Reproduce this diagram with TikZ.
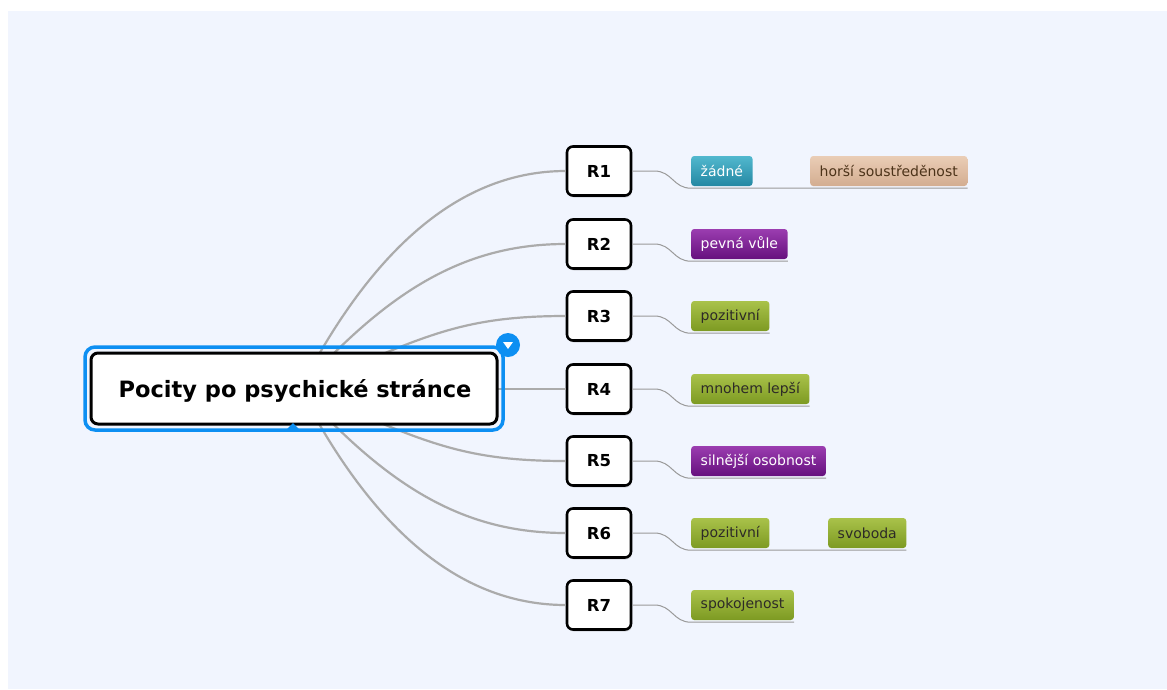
\documentclass[tikz,border=0pt]{standalone}
\usepackage{fontspec}
\setmainfont{DejaVu Sans}
\usetikzlibrary{shadows}
\definecolor{panel}{HTML}{F1F5FE}
\definecolor{wire}{HTML}{ABABAB}
\definecolor{selblue}{HTML}{0D8FF2}
\definecolor{tealT}{HTML}{52B8CE}\definecolor{tealB}{HTML}{2488A3}
\definecolor{tanT}{HTML}{EACDB6}\definecolor{tanB}{HTML}{D3AD90}
\definecolor{purT}{HTML}{9B3DB0}\definecolor{purB}{HTML}{66107E}
\definecolor{grnT}{HTML}{A9C24A}\definecolor{grnB}{HTML}{7D9A22}
\tikzset{
  rbox/.style={draw=black, line width=2.6pt, fill=white, rounded corners=6pt,
    minimum width=64pt, minimum height=49pt, inner sep=0pt,
    font=\bfseries\fontsize{16.5}{18}\selectfont,
    drop shadow={opacity=0.25, shadow xshift=1pt, shadow yshift=-2pt}},
  leaf/.style={anchor=west, rounded corners=3pt, minimum height=30pt, inner xsep=9.5pt,
    inner ysep=0pt, font=\fontsize{14}{16}\selectfont},
  teal/.style={leaf, top color=tealT, bottom color=tealB, text=white},
  tan/.style={leaf, top color=tanT, bottom color=tanB, text=black!60!brown},
  purple/.style={leaf, top color=purT, bottom color=purB, text=white},
  green/.style={leaf, top color=grnT, bottom color=grnB, text=black!90!olive},
  trunk/.style={draw=wire, line width=2.2pt},
  twig/.style={draw=wire!90!black, line width=1pt},
}
\begin{document}
\begin{tikzpicture}[x=1pt, y=-1pt]
\useasboundingbox (0,0) rectangle (1167,689);
\fill[panel] (8,11) rectangle (1167,689);

% branch boxes
\node[rbox] (r1) at (599,171) {R1};
\node[rbox] (r2) at (599,244) {R2};
\node[rbox] (r3) at (599,316) {R3};
\node[rbox] (r4) at (599,389) {R4};
\node[rbox] (r5) at (599,461) {R5};
\node[rbox] (r6) at (599,533) {R6};
\node[rbox] (r7) at (599,605) {R7};

% trunks from the hub
\coordinate (hub) at (300,389);
\draw[trunk] (hub) .. controls +(80,-155) and +(-95,0) .. (r1.west);
\draw[trunk] (hub) .. controls +(90,-100) and +(-100,0) .. (r2.west);
\draw[trunk] (hub) .. controls +(120,-50) and +(-110,0) .. (r3.west);
\draw[trunk] (hub) -- (r4.west);
\draw[trunk] (hub) .. controls +(120,50) and +(-110,0) .. (r5.west);
\draw[trunk] (hub) .. controls +(90,100) and +(-100,0) .. (r6.west);
\draw[trunk] (hub) .. controls +(80,155) and +(-95,0) .. (r7.west);

% central topic
\node[draw=black, line width=3pt, fill=white, rounded corners=7pt,
  minimum width=406pt, minimum height=71pt, inner sep=0pt] (c) at (294,388.5) {};
\node[font=\bfseries\fontsize{22.5}{25}\selectfont, anchor=base] (ctext) at (295,397)
  {Pocity po psychické stránce};
\draw[selblue, line width=3.5pt, rounded corners=10pt]
  ([xshift=-4.5pt,yshift=4.5pt]c.north west) rectangle ([xshift=4.5pt,yshift=-4.5pt]c.south east);
\fill[selblue] (286,430) -- (293,423) -- (300,430) -- cycle;
\node[circle, fill=selblue, minimum size=24pt, inner sep=0pt] (tog) at (508,345) {};
\fill[white] ([xshift=-5pt,yshift=3pt]tog.center) -- ([xshift=5pt,yshift=3pt]tog.center)
  -- ([yshift=-4pt]tog.center) -- cycle;

% leaves
\node[teal]   (l1)  at (691,171) {žádné};
\node[tan]    (l1b) at (810,171) {horší soustředěnost};
\node[purple] (l2)  at (691,244) {pevná vůle};
\node[green]  (l3)  at (691,316) {pozitivní};
\node[green]  (l4)  at (691,389) {mnohem lepší};
\node[purple] (l5)  at (691,461) {silnější osobnost};
\node[green]  (l6)  at (691,533) {pozitivní};
\node[green]  (l6b) at (828,533) {svoboda};
\node[green]  (l7)  at (691,605) {spokojenost};

% twigs with underlines
\foreach \r/\a/\b in {r1/l1/l1b, r6/l6/l6b}{
  \draw[twig] (\r.east) -- ++(22,0) .. controls +(18,0) and +(-18,0) .. ([yshift=-2pt]\a.south west)
    -- ([yshift=-2pt]\b.south east);
}
\foreach \r/\a in {r2/l2, r3/l3, r4/l4, r5/l5, r7/l7}{
  \draw[twig] (\r.east) -- ++(22,0) .. controls +(18,0) and +(-18,0) .. ([yshift=-2pt]\a.south west)
    -- ([yshift=-2pt]\a.south east);
}
\end{tikzpicture}
\end{document}
